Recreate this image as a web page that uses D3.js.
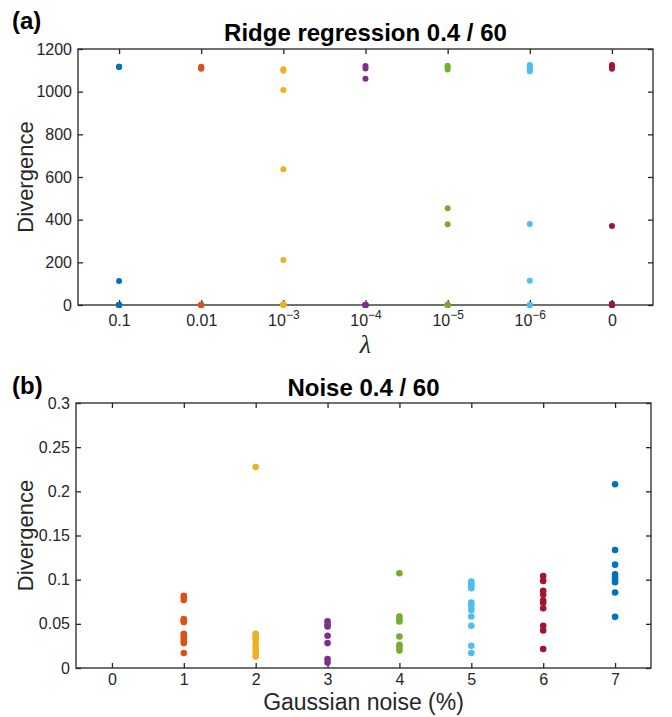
<!DOCTYPE html>
<html>
<head>
<meta charset="utf-8">
<script src="https://cdn.jsdelivr.net/npm/d3@7"></script>
<style>
    body { margin: 0; background: #fff; }
    svg { display: block; }
    text { font-family: "Liberation Sans", Arial, Helvetica, sans-serif; fill: #262626; }
</style>
</head>
<body>
<svg id="chart" width="672" height="717"></svg>
<script>
// MATLAB default colour order, one per group
const groupColors = ["#0072BD", "#D95319", "#EDB120", "#7E2F8E", "#77AC30", "#4DBEEE", "#A2142F"];

// (a) ridge regression: lambda categories and divergence per run
const lambdaLabels = ["0.1", "0.01", "10^-3", "10^-4", "10^-5", "10^-6", "0"];
const ridgeDivergence = [
    [1117, 1117, 1116, 112, 0, 0, 0, 0, 0, 0],
    [1117, 1113, 1110, 1108, 0, 0, 0, 0, 0, 0],
    [1105, 1098, 1008, 636, 211, 5, 2, 0, 0, 0],
    [1120, 1109, 1061, 0, 0, 0, 0, 0, 0, 0],
    [1122, 1115, 1104, 453, 378, 0, 0, 0, 0, 0],
    [1125, 1118, 1110, 1102, 1096, 380, 114, 0, 0, 0],
    [1125, 1117, 1108, 370, 6, 0, 0, 0, 0, 0]
];
const ridgeYTicks = [0, 200, 400, 600, 800, 1000, 1200];

// (b) gaussian noise: noise level (%) and divergence per run
const noiseLevels = [0, 1, 2, 3, 4, 5, 6, 7];
const noiseDivergence = [
    [],
    [0.0817, 0.0801, 0.077, 0.0553, 0.0537, 0.052, 0.0387, 0.0365, 0.0339, 0.0312, 0.0282, 0.0169],
    [0.2276, 0.0387, 0.0357, 0.0335, 0.0282, 0.0244, 0.0207, 0.0169, 0.0131],
    [0.053, 0.0495, 0.047, 0.0365, 0.0282, 0.0102, 0.0063],
    [0.1073, 0.0583, 0.0553, 0.0526, 0.0357, 0.0263, 0.0233, 0.0199],
    [0.0978, 0.0952, 0.0929, 0.0903, 0.074, 0.0703, 0.0658, 0.0583, 0.0478, 0.0252, 0.0169],
    [0.1042, 0.0986, 0.0873, 0.0828, 0.0763, 0.074, 0.0677, 0.0478, 0.0425, 0.0215],
    [0.2081, 0.1336, 0.117, 0.1061, 0.1027, 0.0997, 0.0971, 0.0854, 0.0579]
];
const noiseYTicks = [0, 0.05, 0.1, 0.15, 0.2, 0.25, 0.3];
const noiseColorIndex = [null, 1, 2, 3, 4, 5, 6, 0];

const axisColor = "#262626";
const svg = d3.select("#chart");

function drawFrame(g, x, y, xAxis, yAxis, w, h) {
    g.append("rect")
        .attr("width", w)
        .attr("height", h)
        .attr("fill", "none")
        .attr("stroke", axisColor)
        .attr("stroke-width", 1.3);

    g.append("g")
        .attr("class", "axis")
        .attr("transform", `translate(0, ${h})`)
        .call(xAxis);
    g.append("g")
        .attr("class", "axis")
        .call(yAxis);
    // mirrored ticks on top and right, no labels
    g.append("g")
        .attr("class", "axis")
        .call(d3.axisTop(x).tickValues(xAxis.tickValues()).tickSizeInner(-5).tickSizeOuter(0).tickFormat(""));
    g.append("g")
        .attr("class", "axis")
        .attr("transform", `translate(${w}, 0)`)
        .call(d3.axisRight(y).tickValues(yAxis.tickValues()).tickSizeInner(-5).tickSizeOuter(0).tickFormat(""));

    g.selectAll(".axis > path").style("display", "none");
    g.selectAll(".axis line").attr("stroke", axisColor).attr("stroke-width", 1.3);
    g.selectAll(".axis text")
        .style("font-size", "16px")
        .style("fill", axisColor)
        .attr("font-family", null);
}

// ---------- panel (a) ----------
const marginA = {left: 78, top: 49};
const wA = 575, hA = 256;
const gA = svg.append("g").attr("transform", `translate(${marginA.left}, ${marginA.top})`);

const xA = d3.scaleLinear().domain([0.5, 7.5]).range([0, wA]);
const yA = d3.scaleLinear().domain([0, 1200]).range([hA, 0]);

const xAxisA = d3.axisBottom(xA)
    .tickValues(d3.range(1, 8))
    .tickSizeInner(-5).tickSizeOuter(0)
    .tickPadding(8)
    .tickFormat("");
const yAxisA = d3.axisLeft(yA)
    .tickValues(ridgeYTicks)
    .tickSizeInner(-5).tickSizeOuter(0)
    .tickPadding(6)
    .tickFormat(d3.format("d"));

drawFrame(gA, xA, yA, xAxisA, yAxisA, wA, hA);

// lambda tick labels, with superscript exponents
gA.select(".axis").selectAll(".tick").each(function (d, i) {
    const parts = lambdaLabels[i].split("^");
    const t = d3.select(this).append("text")
        .attr("y", 21)
        .attr("text-anchor", "middle")
        .style("font-size", "16px")
        .style("fill", axisColor);
    t.append("tspan").text(parts[0]);
    if (parts.length > 1) {
        t.append("tspan")
            .attr("dy", -7)
            .style("font-size", "12px")
            .text(parts[1].replace("-", "\u2212"));
    }
});

ridgeDivergence.forEach((runs, i) => {
    gA.append("g")
        .selectAll("circle")
        .data(runs)
        .enter().append("circle")
        .attr("cx", xA(i + 1))
        .attr("cy", d => yA(d))
        .attr("r", 3)
        .attr("fill", groupColors[i]);
});

svg.append("text")
    .attr("x", 12).attr("y", 29)
    .style("font-size", "24px").style("font-weight", "bold").style("fill", "#000")
    .text("(a)");
svg.append("text")
    .attr("x", marginA.left + wA / 2).attr("y", 41)
    .attr("text-anchor", "middle")
    .style("font-size", "24px").style("font-weight", "bold").style("fill", "#000")
    .text("Ridge regression 0.4 / 60");
svg.append("text")
    .attr("transform", `translate(33, ${marginA.top + hA / 2}) rotate(-90)`)
    .attr("text-anchor", "middle")
    .style("font-size", "22px")
    .text("Divergence");
svg.append("text")
    .attr("x", marginA.left + wA / 2).attr("y", 353)
    .attr("text-anchor", "middle")
    .style("font-family", "'Liberation Serif', 'Times New Roman', serif")
    .style("font-style", "italic")
    .style("font-size", "26px")
    .text("\u03bb");

// ---------- panel (b) ----------
const marginB = {left: 76, top: 403};
const wB = 575, hB = 265;
const gB = svg.append("g").attr("transform", `translate(${marginB.left}, ${marginB.top})`);

const xB = d3.scaleLinear().domain([-0.5, 7.5]).range([0, wB]);
const yB = d3.scaleLinear().domain([0, 0.3]).range([hB, 0]);

const xAxisB = d3.axisBottom(xB)
    .tickValues(noiseLevels)
    .tickSizeInner(-5).tickSizeOuter(0)
    .tickPadding(6)
    .tickFormat(d3.format("d"));
const yAxisB = d3.axisLeft(yB)
    .tickValues(noiseYTicks)
    .tickSizeInner(-5).tickSizeOuter(0)
    .tickPadding(6)
    .tickFormat(d => String(+d.toFixed(2)));

drawFrame(gB, xB, yB, xAxisB, yAxisB, wB, hB);

noiseDivergence.forEach((runs, i) => {
    if (!runs.length) return;
    gB.append("g")
        .selectAll("circle")
        .data(runs)
        .enter().append("circle")
        .attr("cx", xB(noiseLevels[i]))
        .attr("cy", d => yB(d))
        .attr("r", 3.3)
        .attr("fill", groupColors[noiseColorIndex[i]]);
});

svg.append("text")
    .attr("x", 12).attr("y", 394)
    .style("font-size", "24px").style("font-weight", "bold").style("fill", "#000")
    .text("(b)");
svg.append("text")
    .attr("x", marginB.left + wB / 2).attr("y", 396)
    .attr("text-anchor", "middle")
    .style("font-size", "24px").style("font-weight", "bold").style("fill", "#000")
    .text("Noise 0.4 / 60");
svg.append("text")
    .attr("transform", `translate(33, ${marginB.top + hB / 2}) rotate(-90)`)
    .attr("text-anchor", "middle")
    .style("font-size", "22px")
    .text("Divergence");
svg.append("text")
    .attr("x", marginB.left + wB / 2).attr("y", 710)
    .attr("text-anchor", "middle")
    .style("font-size", "23px")
    .text("Gaussian noise (%)");
</script>
</body>
</html>
